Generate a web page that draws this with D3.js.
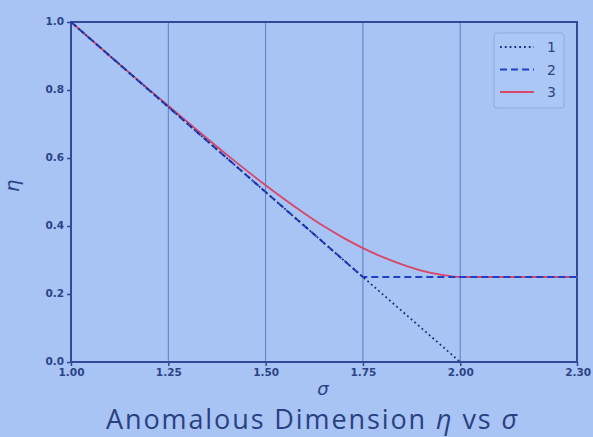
<!DOCTYPE html>
<html><head><meta charset="utf-8">
<script src="https://cdn.jsdelivr.net/npm/d3@7"></script>
<style>
html,body{margin:0;padding:0;background:#a8c4f4;}
svg{display:block;}
</style></head><body>
<svg id="chart" width="593" height="437"></svg>
<script>
// Data
const sigma1 = [1.0, 2.0];
const eta1 = [1.0, 0.0];
const sigma2 = [1.0, 1.75, 2.3];
const eta2 = [1.0, 0.25, 0.25];
const sigma3 = [1.0, 1.1, 1.2, 1.3, 1.4, 1.5, 1.6, 1.65, 1.7, 1.75, 1.8, 1.85, 1.9, 1.95, 2.0, 2.3];
const eta3 = [1.0, 0.9, 0.802, 0.705, 0.61, 0.52, 0.437, 0.399, 0.365, 0.335, 0.309, 0.287, 0.269, 0.257, 0.25, 0.25];
const xTicks = [1.0, 1.25, 1.5, 1.75, 2.0, 2.3];
const xTickLabels = ["1.00", "1.25", "1.50", "1.75", "2.00", "2.30"];
const yTicks = [0.0, 0.2, 0.4, 0.6, 0.8, 1.0];
const yTickLabels = ["0.0", "0.2", "0.4", "0.6", "0.8", "1.0"];
const seriesNames = ["1", "2", "3"];

const svg = d3.select("#chart");
const L = 71, R = 577, T = 22, B = 362;
const x = d3.scaleLinear().domain([1.0, 2.3]).range([L, R]);
const y = d3.scaleLinear().domain([0, 1]).range([B, T]);
const textCol = "#2c4384";
const axisCol = "#2f4b95";

// grid (vertical only)
svg.append("g").selectAll("line").data([1.25, 1.5, 1.75, 2.0]).join("line")
  .attr("x1", d => x(d)).attr("x2", d => x(d)).attr("y1", T).attr("y2", B)
  .attr("stroke", "#5b7cc0").attr("stroke-width", 1);

// axes
const xAxis = d3.axisBottom(x).tickValues(xTicks).tickFormat((d, i) => xTickLabels[i]).tickSize(4).tickPadding(3);
const yAxis = d3.axisLeft(y).tickValues(yTicks).tickFormat((d, i) => yTickLabels[i]).tickSize(4).tickPadding(3);
const gx = svg.append("g").attr("transform", `translate(0,${B})`).call(xAxis);
const gy = svg.append("g").attr("transform", `translate(${L},0)`).call(yAxis);
[gx, gy].forEach(g => {
  g.select(".domain").remove();
  g.selectAll("line").attr("stroke", axisCol).attr("stroke-width", 1.5);
  g.selectAll("text").attr("fill", textCol).style("font-family", "DejaVu Sans").style("font-size", "10.5px").style("font-weight", "bold");
});
gy.selectAll(".tick text").attr("dy", "0.2em");
gx.selectAll(".tick text").filter((d, i) => i === xTicks.length - 1).attr("text-anchor", "end").attr("dx", "1.3em");

// frame
svg.append("rect").attr("x", L).attr("y", T).attr("width", R - L).attr("height", B - T)
  .attr("fill", "none").attr("stroke", axisCol).attr("stroke-width", 2);

const line = d3.line().x(d => x(d[0])).y(d => y(d[1]));
const line3 = d3.line().x(d => x(d[0])).y(d => y(d[1])).curve(d3.curveMonotoneX);

// series 3 red
svg.append("path").datum(sigma3.map((s, i) => [s, eta3[i]])).attr("d", line3)
  .attr("fill", "none").attr("stroke", "#d8466a").attr("stroke-width", 1.8);
// series 2 dashed blue
svg.append("path").datum(sigma2.map((s, i) => [s, eta2[i]])).attr("d", line)
  .attr("fill", "none").attr("stroke", "#1f3fc4").attr("stroke-width", 2).attr("stroke-dasharray", "7,4");
// series 1 dotted
svg.append("path").datum(sigma1.map((s, i) => [s, eta1[i]])).attr("d", line)
  .attr("fill", "none").attr("stroke", "#1c2f7a").attr("stroke-width", 1.8).attr("stroke-dasharray", "1.8,3");

// legend
const lg = svg.append("g");
lg.append("rect").attr("x", 494).attr("y", 33).attr("width", 70).attr("height", 75).attr("rx", 3)
  .attr("fill", "#abc7f6").attr("stroke", "#8fa9dc").attr("stroke-width", 1);
const styles = [
  {stroke: "#1c2f7a", dash: "1.8,3", w: 1.8},
  {stroke: "#1f3fc4", dash: "7,4", w: 2},
  {stroke: "#d8466a", dash: null, w: 1.8}
];
seriesNames.forEach((n, i) => {
  const yy = 47 + i * 22.5;
  lg.append("line").attr("x1", 500).attr("x2", 534).attr("y1", yy).attr("y2", yy)
    .attr("stroke", styles[i].stroke).attr("stroke-width", styles[i].w)
    .attr("stroke-dasharray", styles[i].dash);
  lg.append("text").attr("x", 547).attr("y", yy + 5).text(n)
    .attr("fill", textCol).style("font-family", "DejaVu Sans").style("font-size", "14px");
});

// axis labels
svg.append("text").attr("x", 323).attr("y", 395).attr("text-anchor", "middle").text("σ")
  .attr("fill", textCol).style("font-family", "DejaVu Sans").style("font-style", "italic").style("font-size", "18px");
svg.append("text").attr("transform", "translate(19,186) rotate(-90)").attr("text-anchor", "middle").text("η")
  .attr("fill", textCol).style("font-family", "DejaVu Sans").style("font-style", "italic").style("font-size", "20px");

// title
const title = svg.append("text").attr("x", 106).attr("y", 429)
  .attr("fill", "#2a4080").style("font-family", "Open Sans").style("font-size", "27px").style("letter-spacing", "1.9px");
title.append("tspan").text("Anomalous Dimension ");
title.append("tspan").style("font-style", "italic").text("η");
title.append("tspan").text(" vs ");
title.append("tspan").style("font-style", "italic").text("σ");
</script>
</body></html>
